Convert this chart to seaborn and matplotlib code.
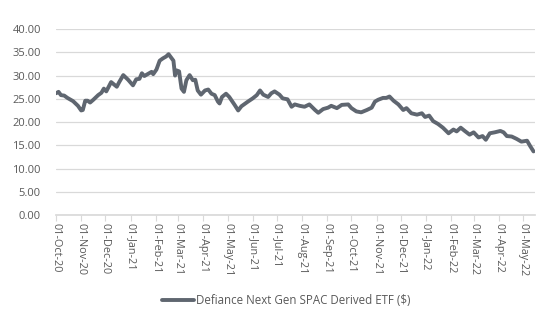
import matplotlib
matplotlib.use("Agg")
import matplotlib.pyplot as plt
import matplotlib.dates as mdates
import seaborn as sns
import pandas as pd

dates = [
    "2020-10-01", "2020-10-04", "2020-10-07", "2020-10-11", "2020-10-15", "2020-10-22",
    "2020-10-28", "2020-11-01", "2020-11-03", "2020-11-06", "2020-11-09", "2020-11-12",
    "2020-11-16", "2020-11-22", "2020-11-26", "2020-11-29", "2020-12-02", "2020-12-08",
    "2020-12-15", "2020-12-18", "2020-12-23", "2020-12-29", "2021-01-04", "2021-01-08",
    "2021-01-12", "2021-01-15", "2021-01-18", "2021-01-22", "2021-01-27", "2021-01-29",
    "2021-02-02", "2021-02-06", "2021-02-10", "2021-02-14", "2021-02-17", "2021-02-20",
    "2021-02-23", "2021-02-25", "2021-02-27", "2021-03-02", "2021-03-05", "2021-03-08",
    "2021-03-11", "2021-03-15", "2021-03-19", "2021-03-22", "2021-03-25", "2021-03-29",
    "2021-04-03", "2021-04-07", "2021-04-11", "2021-04-15", "2021-04-19", "2021-04-21",
    "2021-04-24", "2021-04-29", "2021-05-03", "2021-05-10", "2021-05-14", "2021-05-18",
    "2021-05-26", "2021-06-01", "2021-06-06", "2021-06-10", "2021-06-14", "2021-06-20",
    "2021-06-24", "2021-06-28", "2021-07-04", "2021-07-08", "2021-07-14", "2021-07-19",
    "2021-07-23", "2021-07-29", "2021-08-04", "2021-08-10", "2021-08-17", "2021-08-21",
    "2021-08-27", "2021-09-02", "2021-09-06", "2021-09-13", "2021-09-19", "2021-09-27",
    "2021-10-01", "2021-10-07", "2021-10-13", "2021-10-20", "2021-10-26", "2021-10-30",
    "2021-11-03", "2021-11-09", "2021-11-13", "2021-11-17", "2021-11-22", "2021-11-28",
    "2021-12-04", "2021-12-08", "2021-12-14", "2021-12-21", "2021-12-27", "2021-12-31",
    "2022-01-05", "2022-01-10", "2022-01-16", "2022-01-22", "2022-01-29", "2022-02-04",
    "2022-02-08", "2022-02-13", "2022-02-18", "2022-02-24", "2022-03-01", "2022-03-07",
    "2022-03-12", "2022-03-16", "2022-03-21", "2022-03-27", "2022-04-03", "2022-04-07",
    "2022-04-11", "2022-04-17", "2022-04-23", "2022-04-29", "2022-05-06", "2022-05-10",
    "2022-05-14",
]
values = [
    26.2, 26.5, 25.8, 25.7, 25.2, 24.5,
    23.5, 22.5, 22.6, 24.6, 24.6, 24.2,
    24.8, 25.8, 26.3, 27.2, 26.6, 28.6,
    27.6, 28.6, 30.1, 29.1, 27.9, 29.2,
    29.3, 30.5, 29.9, 30.3, 30.8, 30.3,
    31.3, 33.2, 33.7, 34.1, 34.6, 33.9,
    33.2, 30.0, 31.1, 30.9, 27.2, 26.5,
    29.0, 30.1, 29.0, 29.1, 26.8, 25.9,
    26.8, 27.0, 26.1, 25.8, 24.4, 24.0,
    25.4, 26.1, 25.4, 23.6, 22.5, 23.4,
    24.4, 25.1, 25.8, 26.8, 25.9, 25.4,
    26.2, 26.6, 25.9, 25.1, 24.9, 23.3,
    23.8, 23.5, 23.3, 23.8, 22.6, 22.0,
    22.8, 23.1, 23.5, 23.0, 23.7, 23.8,
    23.0, 22.3, 22.1, 22.6, 23.1, 24.4,
    24.8, 25.2, 25.2, 25.5, 24.6, 23.8,
    22.6, 23.0, 21.9, 21.6, 21.9, 21.1,
    21.4, 20.2, 19.6, 18.8, 17.6, 18.4,
    18.0, 18.8, 18.1, 17.3, 17.8, 16.7,
    17.0, 16.2, 17.6, 17.8, 18.1, 17.8,
    17.0, 16.9, 16.4, 15.8, 16.0, 14.8,
    13.7,
]
series_name = "Defiance Next Gen SPAC Derived ETF ($)"
y_ticks = [0, 5, 10, 15, 20, 25, 30, 35, 40]

df = pd.DataFrame({"date": pd.to_datetime(dates), "value": values, "series": series_name})

sns.set_theme(style="white")
plt.rcParams["font.family"] = ["Open Sans", "DejaVu Sans"]

fig = plt.figure(figsize=(5.5, 3.3), dpi=100)
ax = fig.add_axes([0.102, 0.348, 0.871, 0.564])

line_color = "#5f6670"
sns.lineplot(data=df, x="date", y="value", hue="series", palette=[line_color],
             linewidth=2.8, ax=ax, legend=True)

ax.set_ylim(0, 40)
ax.set_yticks(y_ticks)
ax.set_yticklabels([f"{v:.2f}" for v in y_ticks])
ax.set_xlim(pd.Timestamp("2020-10-01"), pd.Timestamp("2022-05-16"))
ax.xaxis.set_major_locator(mdates.MonthLocator(bymonthday=1))
ax.xaxis.set_major_formatter(mdates.DateFormatter("%d-%b-%y"))
plt.setp(ax.get_xticklabels(), rotation=-90, ha="center", va="top")

text_color = "#595959"
ax.tick_params(axis="x", colors="#d9d9d9", labelcolor=text_color, labelsize=7.8,
               direction="out", length=4, width=0.8, bottom=True, pad=2)
ax.tick_params(axis="y", labelcolor=text_color, labelsize=8, left=False, pad=5)
ax.grid(axis="y", color="#d9d9d9", linewidth=0.9)
ax.grid(axis="x", visible=False)
for s in ["top", "right", "left"]:
    ax.spines[s].set_visible(False)
ax.spines["bottom"].set_color("#d9d9d9")
ax.set_xlabel("")
ax.set_ylabel("")

leg = ax.legend(loc="center", bbox_to_anchor=(0.52, 0.09), bbox_transform=fig.transFigure,
                frameon=False, fontsize=8.3, labelcolor=text_color,
                handlelength=2.8, handletextpad=0.2)

fig.savefig("out.png", dpi=100)
